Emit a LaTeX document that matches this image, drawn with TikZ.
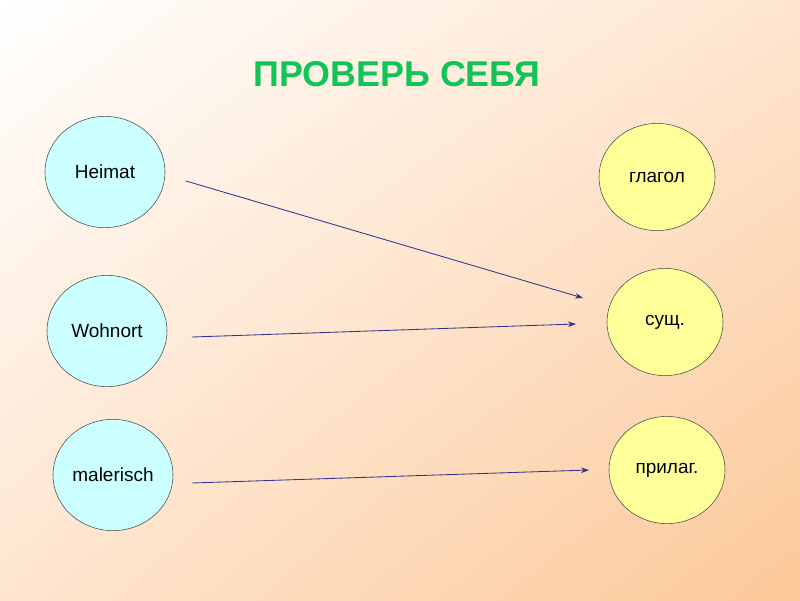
\documentclass[tikz,border=0pt]{standalone}
\usepackage{fontspec}
\setmainfont{Liberation Sans}
\usetikzlibrary{shapes.geometric, arrows.meta, positioning, shadings}
\definecolor{titlegreen}{RGB}{18,196,88}
\definecolor{wordcyan}{RGB}{204,255,255}
\definecolor{classyellow}{RGB}{255,255,153}
\definecolor{arrowblue}{RGB}{51,51,140}
\definecolor{peach}{RGB}{252,200,152}
\definecolor{peachlight}{RGB}{254,230,208}

\begin{document}
\begin{tikzpicture}[
    x=0.025cm, y=-0.025cm,
    word/.style={ellipse, draw=black!70, fill=wordcyan, minimum width=3.0cm, minimum height=2.78cm, inner sep=0pt, font=\fontsize{13.5}{16}\selectfont},
    wclass/.style={ellipse, draw=black!70, fill=classyellow, minimum width=2.9cm, minimum height=2.68cm, inner sep=0pt, font=\fontsize{13.5}{16}\selectfont},
    arrow/.style={-{Stealth[length=2mm, width=1.4mm]}, draw=arrowblue, line width=0.6pt}
]
\shade[upper left=white, upper right=peachlight, lower left=peachlight, lower right=peach] (0,0) rectangle (800,600);
\useasboundingbox (0,0) rectangle (800,600);

\node[font=\fontsize{25.5}{30}\selectfont\bfseries, text=titlegreen] (title) at (397,74) {ПРОВЕРЬ СЕБЯ};

\node[word] (heimat) at (105,172) {Heimat};
\node[word] (wohnort) at (107,331) {Wohnort};
\node[word] (malerisch) at (113,475) {malerisch};

\node[wclass] (glagol) at (657,177) {глагол};
\node[wclass] (sushch) at (665,322) {сущ.};
\node[wclass] (prilag) at (667,470) {прилаг.};

\coordinate (h0) at (186,181);
\coordinate (h1) at (583,298);
\coordinate (w0) at (192,337);
\coordinate (w1) at (576,324);
\coordinate (m0) at (192,483);
\coordinate (m1) at (589,470);

\draw[arrow] (h0) -- (h1);
\draw[arrow] (w0) -- (w1);
\draw[arrow] (m0) -- (m1);
\end{tikzpicture}
\end{document}
